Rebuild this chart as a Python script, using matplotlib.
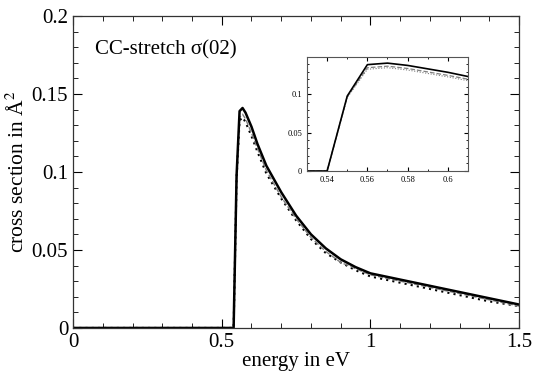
import numpy as np
import matplotlib
matplotlib.use("Agg")
import matplotlib.pyplot as plt
from matplotlib.ticker import MultipleLocator, FormatStrFormatter

plt.rcParams["font.family"] = ["Liberation Serif", "DejaVu Serif"]
plt.rcParams["mathtext.fontset"] = "stix"

# energy grid (eV)
energy = [0.0, 0.54, 0.55, 0.56, 0.57, 0.58, 0.60, 0.62, 0.65, 0.70, 0.75,
          0.80, 0.85, 0.90, 0.95, 1.00, 1.10, 1.20, 1.30, 1.40, 1.50]
# cross sections (A^2)
sigma_solid = [0.0, 0.0, 0.098, 0.139, 0.141, 0.138, 0.129, 0.118, 0.104,
               0.087, 0.072, 0.060, 0.051, 0.044, 0.039, 0.035, 0.031,
               0.027, 0.023, 0.019, 0.015]
sigma_dashed = [0.0, 0.0, 0.097, 0.135, 0.137, 0.134, 0.125, 0.115, 0.101,
                0.084, 0.070, 0.058, 0.049, 0.042, 0.038, 0.034, 0.030,
                0.026, 0.022, 0.018, 0.014]
sigma_dotted = [0.0, 0.0, 0.096, 0.133, 0.135, 0.132, 0.123, 0.113, 0.099,
                0.083, 0.069, 0.057, 0.048, 0.042, 0.037, 0.033, 0.029,
                0.025, 0.021, 0.017, 0.014]

label_text = "CC-stretch σ(02)"


def style_axes(ax, size):
    ax.tick_params(which="both", direction="in", top=True, right=True)
    ax.tick_params(which="major", length=size * 0.45, labelsize=size)
    ax.tick_params(which="minor", length=size * 0.25)


fig = plt.figure(figsize=(5.33, 3.8), dpi=100)
ax = fig.add_axes([0.137, 0.137, 0.837, 0.821])

ax.plot(energy, sigma_dotted, color="black", lw=1.5, ls=(0, (1, 2)))
ax.plot(energy, sigma_dashed, color="gray", lw=1.0, ls="--")
ax.plot(energy, sigma_solid, color="black", lw=1.8)

ax.set_xlim(0, 1.5)
ax.set_ylim(0, 0.2)
ax.xaxis.set_major_locator(MultipleLocator(0.5))
ax.xaxis.set_minor_locator(MultipleLocator(0.1))
ax.yaxis.set_major_locator(MultipleLocator(0.05))
ax.yaxis.set_minor_locator(MultipleLocator(0.01))
ax.xaxis.set_major_formatter(FormatStrFormatter("%g"))
ax.yaxis.set_major_formatter(FormatStrFormatter("%g"))
style_axes(ax, 15)
for spine in ax.spines.values():
    spine.set_linewidth(0.9)
    spine.set_color("#333333")
ax.set_xlabel("energy in eV", fontsize=15, labelpad=0)
ax.set_ylabel("cross section in Å$^2$", fontsize=15.5, labelpad=2)
ax.text(0.074, 0.178, label_text, fontsize=15, va="center", ha="left")

# inset zoom around the threshold
axin = fig.add_axes([0.576, 0.55, 0.302, 0.30])
axin.plot(energy, sigma_dotted, color="gray", lw=0.8, ls=(0, (1, 1.5)))
axin.plot(energy, sigma_dashed, color="gray", lw=0.9, ls="--")
axin.plot(energy, sigma_solid, color="black", lw=1.2)
axin.set_xlim(0.53, 0.61)
axin.set_ylim(0, 0.149)
axin.xaxis.set_major_locator(MultipleLocator(0.02))
axin.xaxis.set_minor_locator(MultipleLocator(0.01))
axin.yaxis.set_major_locator(MultipleLocator(0.05))
axin.yaxis.set_minor_locator(MultipleLocator(0.01))
axin.xaxis.set_major_formatter(FormatStrFormatter("%g"))
axin.yaxis.set_major_formatter(FormatStrFormatter("%g"))
style_axes(axin, 6)
for spine in axin.spines.values():
    spine.set_color("#555555")

fig.savefig("out.png", dpi=100)
